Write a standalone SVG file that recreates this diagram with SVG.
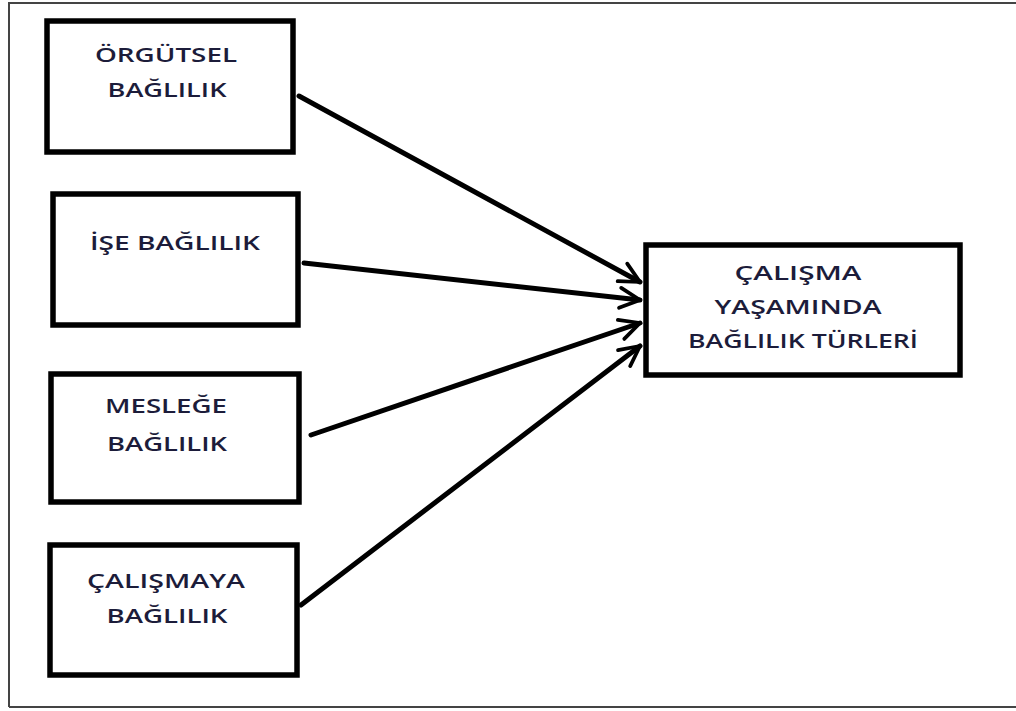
<svg xmlns="http://www.w3.org/2000/svg" width="1016" height="711" viewBox="0 0 1016 711">
  <defs>
    <style>
      .box { fill: #ffffff; stroke: #000000; stroke-width: 5.5; }
      .lbl { font-family: "Open Sans", "Liberation Sans", sans-serif; font-size: 20px; font-weight: 600; fill: #1c1c3a; text-anchor: middle; }
      .edge { stroke: #000000; stroke-width: 5; fill: none; stroke-linecap: round; }
    </style>
    <marker id="vhead" viewBox="0 0 20 20" refX="18" refY="10" markerWidth="5" markerHeight="5" markerUnits="strokeWidth" orient="auto">
      <path d="M2,2 L18,10 L2,18" fill="none" stroke="#000000" stroke-width="3" stroke-linecap="round" stroke-linejoin="round"/>
    </marker>
  </defs>

  <rect width="1016" height="711" fill="#ffffff"/>
  <!-- outer frame -->
  <path d="M9,707 L9,3 L1020,3" fill="none" stroke="#444444" stroke-width="2"/>
  <path d="M9,707 L1020,707" fill="none" stroke="#444444" stroke-width="2"/>

  <g id="orgutsel">
    <rect class="box" x="47" y="21" width="246" height="131"/>
    <text class="lbl" x="166" y="62" textLength="142" lengthAdjust="spacingAndGlyphs">ÖRGÜTSEL</text>
    <text class="lbl" x="167" y="97" textLength="119" lengthAdjust="spacingAndGlyphs">BAĞLILIK</text>
  </g>

  <g id="ise">
    <rect class="box" x="53" y="194" width="245" height="131"/>
    <text class="lbl" x="175" y="250" textLength="170" lengthAdjust="spacingAndGlyphs">İŞE BAĞLILIK</text>
  </g>

  <g id="meslege">
    <rect class="box" x="51" y="374" width="248" height="128"/>
    <text class="lbl" x="166" y="413" textLength="122" lengthAdjust="spacingAndGlyphs">MESLEĞE</text>
    <text class="lbl" x="167" y="451" textLength="120" lengthAdjust="spacingAndGlyphs">BAĞLILIK</text>
  </g>

  <g id="calismaya">
    <rect class="box" x="50" y="545" width="247" height="130"/>
    <text class="lbl" x="166" y="588" textLength="158" lengthAdjust="spacingAndGlyphs">ÇALIŞMAYA</text>
    <text class="lbl" x="167" y="623" textLength="121" lengthAdjust="spacingAndGlyphs">BAĞLILIK</text>
  </g>

  <g id="turler">
    <rect class="box" x="646" y="245" width="314" height="130"/>
    <text class="lbl" x="798" y="280" textLength="127" lengthAdjust="spacingAndGlyphs">ÇALIŞMA</text>
    <text class="lbl" x="798" y="314" textLength="167" lengthAdjust="spacingAndGlyphs">YAŞAMINDA</text>
    <text class="lbl" x="803" y="348" textLength="230" lengthAdjust="spacingAndGlyphs">BAĞLILIK TÜRLERİ</text>
  </g>

  <g id="connectors">
    <line class="edge" x1="299" y1="96" x2="640" y2="282" marker-end="url(#vhead)"/>
    <line class="edge" x1="304" y1="263" x2="640" y2="300" marker-end="url(#vhead)"/>
    <line class="edge" x1="311" y1="435" x2="640" y2="323" marker-end="url(#vhead)"/>
    <line class="edge" x1="301" y1="605" x2="640" y2="346" marker-end="url(#vhead)"/>
  </g>
</svg>
